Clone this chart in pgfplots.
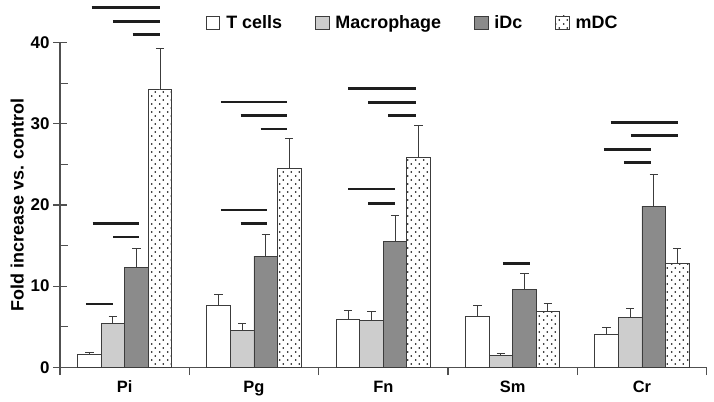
\documentclass[border=0pt]{standalone}
\usepackage{pgfplots}
\pgfplotsset{compat=1.18}
\usepackage{pgfplotstable}
\usetikzlibrary{patterns}
\usepackage{fontspec}
\setmainfont{Liberation Sans}
\definecolor{barline}{HTML}{3C3C3C}
\definecolor{macgray}{HTML}{CDCDCD}
\definecolor{idcgray}{HTML}{8B8B8B}
\definecolor{axisgray}{HTML}{505050}
\definecolor{sigline}{HTML}{1E1E1E}
\pgfdeclarepatternformonly{sparsedots}{\pgfpoint{0bp}{0bp}}{\pgfpoint{7.5bp}{8bp}}{\pgfpoint{7.5bp}{8bp}}{%
  \pgfpathcircle{\pgfpoint{1.9bp}{2bp}}{0.85bp}%
  \pgfpathcircle{\pgfpoint{5.6bp}{6bp}}{0.85bp}%
  \pgfusepath{fill}}

% x = category index + offset, y = mean, e = upper error
\pgfplotstableread{
x y e
-0.273 1.60 0.25
0.727 7.56 1.39
1.727 5.92 1.06
2.727 6.29 1.27
3.727 4.02 0.83
}\tcells
\pgfplotstableread{
x y e
-0.091 5.34 0.95
0.909 4.56 0.86
1.909 5.71 1.15
2.909 1.43 0.30
3.909 6.17 1.10
}\macro
\pgfplotstableread{
x y e
0.091 12.28 2.39
1.091 13.69 2.71
2.091 15.54 3.12
3.091 9.57 1.97
4.091 19.85 3.95
}\idc
\pgfplotstableread{
x y e
0.273 34.19 5.11
1.273 24.49 3.71
2.273 25.80 3.95
3.273 6.86 0.98
4.273 12.82 1.85
}\mdc

\begin{document}
\begin{tikzpicture}
\begin{axis}[
  scale only axis,
  width=646.7bp, height=324.6bp,
  xmin=-0.5, xmax=4.5, ymin=0, ymax=40,
  enlargelimits=false,
  clip=false,
  axis lines=left,
  axis line style={-, draw=axisgray, line width=1.1bp},
  xtick={0,1,2,3,4},
  xticklabels={Pi,Pg,Fn,Sm,Cr},
  minor xtick={-0.5,0.5,1.5,2.5,3.5,4.5},
  ytick={0,10,20,30,40},
  minor ytick={5,15,25,35},
  tick align=center,
  major tick length=14bp,
  minor tick length=8bp,
  major x tick style={draw=none},
  minor x tick style={draw=axisgray, line width=1.1bp, yshift=-4bp},
  major y tick style={draw=axisgray, line width=1.1bp},
  minor y tick style={draw=axisgray, line width=1.1bp, xshift=4bp},
  /pgf/number format/assume math mode=true,
  xticklabel style={font=\fontsize{16.5}{18}\selectfont\bfseries, color=black, yshift=-3bp},
  yticklabel style={font=\fontsize{17}{18}\selectfont\bfseries, color=black},
  ylabel={Fold increase vs. control},
  ylabel style={font=\fontsize{18}{20}\selectfont\bfseries},
  legend style={at={(0.2253,1.0616)}, anchor=west, draw=none, fill=none,
    legend columns=4, font=\fontsize{18}{20}\selectfont\bfseries,
    inner xsep=0pt, inner ysep=0pt,
    /tikz/every odd column/.append style={column sep=4bp},
    /tikz/every even column/.append style={column sep=31bp}},
  mybar/.style={ybar, bar width=0.182, bar shift=0pt, draw=barline, line width=0.9bp,
    legend image code/.code={\draw[##1] (0bp,-6.7bp) rectangle (13.5bp,6.7bp);},
    /pgfplots/error bars/y dir=plus, /pgfplots/error bars/y explicit,
    /pgfplots/error bars/error mark=-,
    /pgfplots/error bars/error bar style={draw=barline, line width=0.9bp},
    /pgfplots/error bars/error mark options={draw=barline, line width=0.9bp, mark size=4.2bp, rotate=90}},
]
\addplot[mybar, fill=white] table[x=x, y=y, y error=e] {\tcells};
\addlegendentry{T cells}
\addplot[mybar, fill=macgray] table[x=x, y=y, y error=e] {\macro};
\addlegendentry{Macrophage}
\addplot[mybar, fill=idcgray] table[x=x, y=y, y error=e] {\idc};
\addlegendentry{iDc}
\addplot[mybar, fill=white, postaction={pattern=sparsedots, pattern color=black}] table[x=x, y=y, y error=e] {\mdc};
\addlegendentry{mDC}

% significance lines
\addplot[sigline, line width=2.6bp, unbounded coords=jump, forget plot, mark=none] coordinates {
(-0.255,44.36) (0.273,44.36) (0,nan)
(-0.092,42.64) (0.273,42.64) (0,nan)
(0.062,40.99) (0.273,40.99) (0,nan)
(-0.247,17.74) (0.113,17.74) (0,nan)
(-0.088,16.06) (0.113,16.06) (0,nan)
(-0.299,7.80) (-0.092,7.80) (0,nan)
(0.743,32.69) (1.258,32.69) (0,nan)
(0.897,31.00) (1.258,31.00) (0,nan)
(1.052,29.37) (1.258,29.37) (0,nan)
(0.743,19.38) (1.103,19.38) (0,nan)
(0.897,17.74) (1.103,17.74) (0,nan)
(1.729,34.38) (2.250,34.38) (0,nan)
(1.884,32.66) (2.250,32.66) (0,nan)
(2.038,31.05) (2.250,31.05) (0,nan)
(1.729,21.97) (2.090,21.97) (0,nan)
(1.884,20.21) (2.090,20.21) (0,nan)
(2.925,12.77) (3.132,12.77) (0,nan)
(3.758,30.19) (4.278,30.19) (0,nan)
(3.915,28.54) (4.278,28.54) (0,nan)
(3.706,26.86) (4.070,26.86) (0,nan)
(3.861,25.21) (4.070,25.21)
};

\coordinate (bl) at (axis cs:-0.964,-4.276);
\coordinate (tr) at (axis cs:4.557,45.26);
\end{axis}
\pgfresetboundingbox
\useasboundingbox (bl) rectangle (tr);
\end{tikzpicture}
\end{document}
